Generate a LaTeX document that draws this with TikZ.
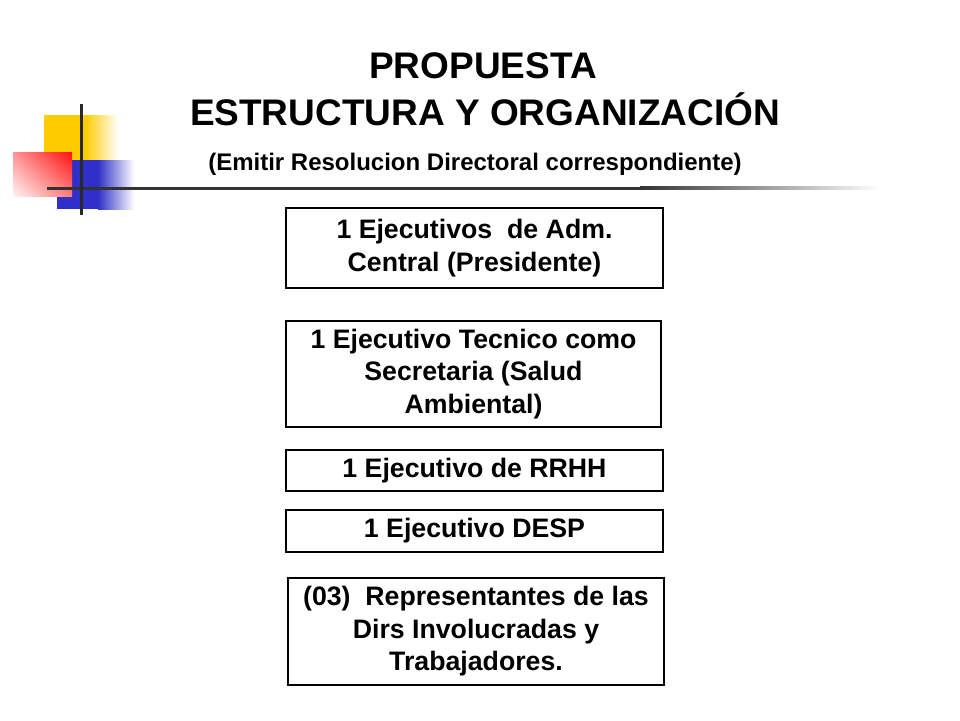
\documentclass[tikz,border=0pt]{standalone}
\usepackage{fontspec}
\setmainfont{Liberation Sans}
\usepackage{tikz}
\usetikzlibrary{positioning,shadings}
\definecolor{amarillo}{HTML}{FFCC00}
\definecolor{rojo}{HTML}{FF1010}
\definecolor{azul}{HTML}{3030C8}
\definecolor{linea}{HTML}{333333}
\tikzset{
  cargo/.style={
    draw=black,
    line width=1.3pt,
    align=center,
    inner sep=0pt,
    font=\bfseries\fontsize{26.7}{32.5}\selectfont
  },
  titulo/.style={
    font=\bfseries\fontsize{37}{42}\selectfont
  }
}

\begin{document}
\begin{tikzpicture}[x=1pt, y=-1pt]
  \useasboundingbox (0,0) rectangle (960,720);

  % Decoration (top left)
  \fill[amarillo] (44,115) rectangle (85,160);
  \shade[left color=amarillo, right color=white] (85,115) rectangle (118,160);
  \fill[azul] (57,160) rectangle (98,209);
  \shade[left color=azul, right color=white] (98,160) rectangle (134,209);
  \shade[upper right=rojo, lower right=rojo!55, upper left=rojo!45, lower left=rojo!5]
    (13,152) rectangle (72,196);
  \fill[linea] (47,186.5) rectangle (640,189.5);
  \shade[left color=linea, right color=white] (640,186.5) rectangle (880,189.5);
  \fill[linea!80!black] (79.5,104) rectangle (82.5,215);

  % Title
  \node[titulo] (propuesta) at (483,66) {PROPUESTA};
  \node[titulo] (estructura) at (485,109) {ESTRUCTURA Y ORGANIZACIÓN};
  \node[font=\bfseries\fontsize{24}{28}\selectfont] (resolucion) at (475,164)
    {(Emitir Resolucion Directoral correspondiente)};

  % Boxes
  \node[cargo, minimum width=377, minimum height=80] (presidente) at (474.5,248)
    {1 Ejecutivos\ \ de Adm.\\Central (Presidente)};
  \node[cargo, minimum width=375, minimum height=106] (secretaria) at (473.5,374)
    {1 Ejecutivo Tecnico como\\Secretaria (Salud\\Ambiental)};
  \node[cargo, minimum width=377, minimum height=41] (rrhh) at (474.5,470.5)
    {1 Ejecutivo de RRHH};
  \node[cargo, minimum width=377, minimum height=42] (desp) at (474.5,531)
    {1 Ejecutivo DESP};
  \node[cargo, minimum width=376, minimum height=107] (representantes) at (476,631.5)
    {(03)\ \ Representantes de las\\Dirs Involucradas y\\Trabajadores.};
\end{tikzpicture}
\end{document}
